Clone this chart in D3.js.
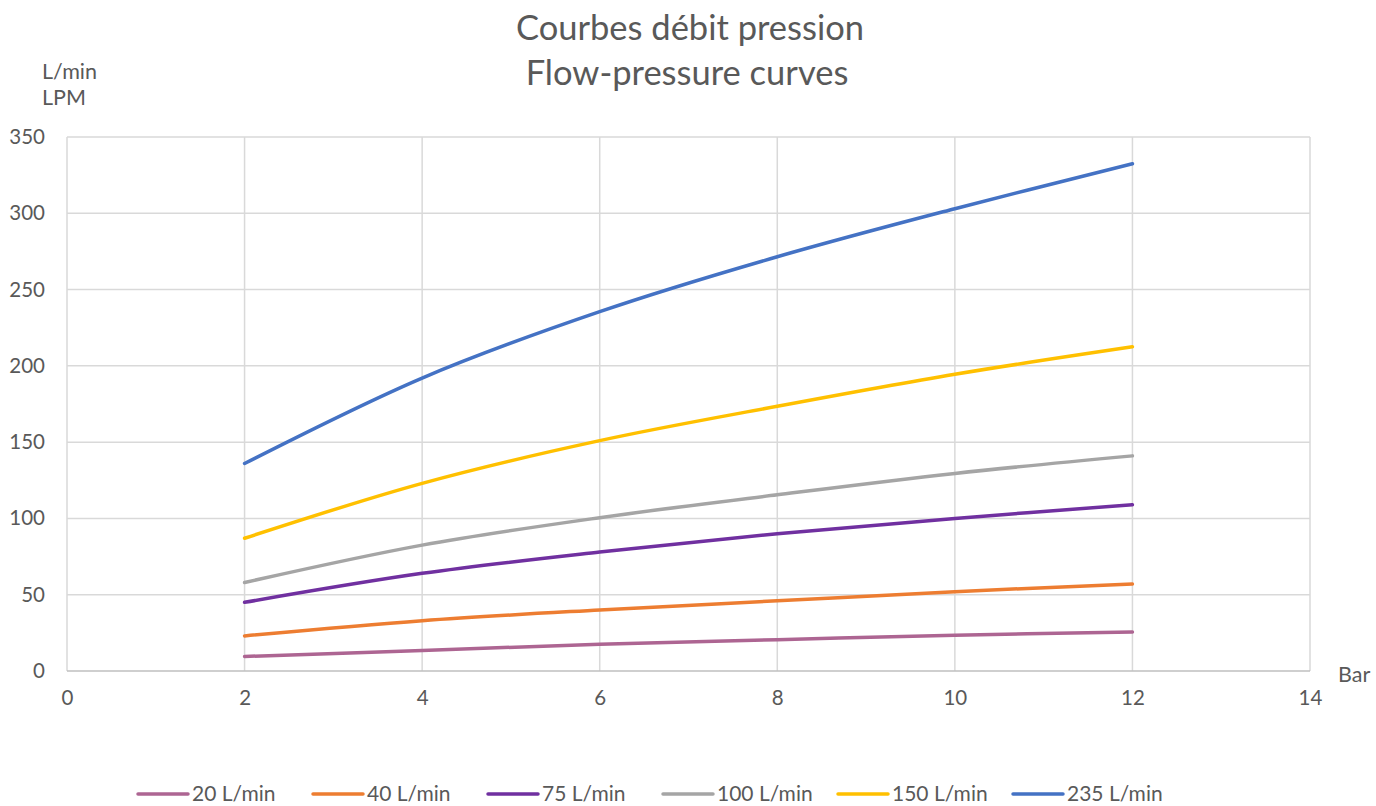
<!DOCTYPE html>
<html><head><meta charset="utf-8">
<script src="https://cdn.jsdelivr.net/npm/d3@7"></script>
<style>body{margin:0;background:#fff}svg{display:block}text{font-family:Lato,"Open Sans",sans-serif;fill:#595959}</style>
</head><body>
<svg id="c" width="1376" height="806"></svg>
<script>
const pressures = [2, 4, 6, 8, 10, 12];
const seriesNames = ["20 L/min", "40 L/min", "75 L/min", "100 L/min", "150 L/min", "235 L/min"];
const s20 = [9.5, 13.5, 17.5, 20.5, 23.5, 25.5];
const s40 = [23, 33, 40, 46, 52, 57];
const s75 = [45, 64, 78, 90, 100, 109];
const s100 = [58, 82.5, 100.5, 115.5, 129.5, 141];
const s150 = [87, 123, 151, 173.5, 194.5, 212.5];
const s235 = [136, 192, 235.5, 271.5, 303, 332.5];
const colors = ["#AD6592", "#ED7D31", "#7030A0", "#A5A5A5", "#FFC000", "#4472C4"];
const xTicks = [0, 2, 4, 6, 8, 10, 12, 14];
const yTicks = [0, 50, 100, 150, 200, 250, 300, 350];
const allSeries = [s20, s40, s75, s100, s150, s235];

const svg = d3.select("#c");
const x = d3.scaleLinear().domain([0, 14]).range([67, 1310]);
const y = d3.scaleLinear().domain([0, 350]).range([671, 137]);

// title
svg.append("text").attr("x", 690).attr("y", 40).attr("text-anchor", "middle").attr("font-size", 34.5).text("Courbes débit pression");
svg.append("text").attr("x", 687).attr("y", 85).attr("text-anchor", "middle").attr("font-size", 34.5).text("Flow-pressure curves");

// grid
const g = svg.append("g");
g.selectAll(".hg").data(yTicks.slice(1)).join("line")
  .attr("x1", x(0)).attr("x2", x(14)).attr("y1", d => y(d)).attr("y2", d => y(d))
  .attr("stroke", "#d9d9d9").attr("stroke-width", 1.5);
g.selectAll(".vg").data(xTicks.slice(1)).join("line")
  .attr("x1", d => x(d)).attr("x2", d => x(d)).attr("y1", y(0)).attr("y2", y(350))
  .attr("stroke", "#d9d9d9").attr("stroke-width", 1.5);
g.append("line").attr("x1", x(0)).attr("x2", x(0)).attr("y1", y(0)).attr("y2", y(350))
  .attr("stroke", "#d9d9d9").attr("stroke-width", 1.5);
g.append("line").attr("x1", x(0)).attr("x2", x(14)).attr("y1", y(0)).attr("y2", y(0))
  .attr("stroke", "#bfbfbf").attr("stroke-width", 1.5);

// axes
const yAxis = svg.append("g").attr("transform", `translate(${x(0)},0)`)
  .call(d3.axisLeft(y).tickValues(yTicks).tickSize(0).tickPadding(22));
yAxis.select(".domain").remove();
yAxis.selectAll("text").attr("font-size", 20.5).attr("fill", "#595959").attr("font-family", "Lato");
const xAxis = svg.append("g").attr("transform", `translate(0,${y(0)})`)
  .call(d3.axisBottom(x).tickValues(xTicks).tickSize(0).tickPadding(19));
xAxis.select(".domain").remove();
xAxis.selectAll("text").attr("font-size", 20.5).attr("fill", "#595959").attr("font-family", "Lato");

// axis titles
svg.append("text").attr("x", 42).attr("y", 79).attr("font-size", 21.5).text("L/min");
svg.append("text").attr("x", 42).attr("y", 105).attr("font-size", 21.5).text("LPM");
svg.append("text").attr("x", 1338).attr("y", 682).attr("font-size", 21.5).text("Bar");

// lines
const line = d3.line().x((d, i) => x(pressures[i])).y(d => y(d)).curve(d3.curveCatmullRom.alpha(0));
svg.append("g").selectAll("path").data(allSeries).join("path")
  .attr("d", d => line(d)).attr("fill", "none")
  .attr("stroke", (d, i) => colors[i]).attr("stroke-width", 3.5).attr("stroke-linecap", "round");

// legend
const legX = [138, 313, 488, 663, 838, 1013];
const leg = svg.append("g").selectAll("g").data(seriesNames).join("g")
  .attr("transform", (d, i) => `translate(${legX[i]},794)`);
leg.append("line").attr("x1", 0).attr("x2", 50).attr("y1", 0).attr("y2", 0)
  .attr("stroke", (d, i) => colors[i]).attr("stroke-width", 3.5).attr("stroke-linecap", "round");
leg.append("text").attr("x", 54).attr("y", 7).attr("font-size", 21).text(d => d);
</script>
</body></html>
